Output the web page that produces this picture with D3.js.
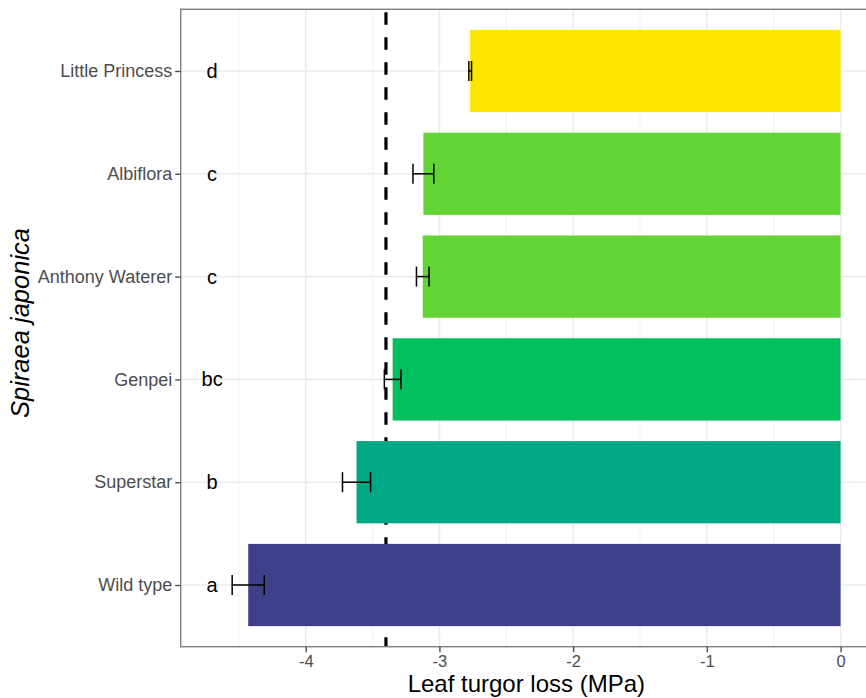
<!DOCTYPE html>
<html>
<head>
<meta charset="utf-8">
<script src="https://cdn.jsdelivr.net/npm/d3@7"></script>
<style>
  html, body { margin: 0; padding: 0; background: #fff; }
  svg { display: block; font-family: "Liberation Sans", Arial, Helvetica, sans-serif; }
</style>
</head>
<body>
<svg id="chart" width="866" height="698"></svg>
<script>
// Cultivars, bottom to top
const cultivars = ["Wild type", "Superstar", "Genpei", "Anthony Waterer", "Albiflora", "Little Princess"];
// Mean leaf turgor loss point (MPa)
const turgorLoss = [-4.43, -3.62, -3.35, -3.125, -3.12, -2.77];
// Standard error
const stdError = [0.12, 0.105, 0.062, 0.047, 0.078, 0.01];
// Significance groups
const groupLetters = ["a", "b", "bc", "c", "c", "d"];
const barColors = ["#3E4089", "#00A884", "#00BF5E", "#62D436", "#62D436", "#FDE500"];
// Reference threshold line
const threshold = -3.4;
const xTicks = [-4, -3, -2, -1, 0];
const xMinorTicks = [-4.5, -3.5, -2.5, -1.5, -0.5];
const letterX = -4.7;

const rows = cultivars.map((c, i) => ({
  name: c, value: turgorLoss[i], se: stdError[i], letter: groupLetters[i], color: barColors[i]
}));

const svg = d3.select("#chart");
const panel = { left: 180.7, right: 872, top: 9.3, bottom: 646.7 };

const x = d3.scaleLinear().domain([-4.935, 0.235]).range([panel.left, panel.right]);
const y = d3.scalePoint().domain(cultivars).range([panel.bottom, panel.top]).padding(0.6);
const barH = y.step() * 0.8;

// panel background
svg.append("rect")
  .attr("x", panel.left).attr("y", panel.top)
  .attr("width", panel.right - panel.left).attr("height", panel.bottom - panel.top)
  .attr("fill", "#fff");

const grid = svg.append("g");
grid.selectAll("line.minor").data(xMinorTicks).join("line")
  .attr("x1", d => x(d)).attr("x2", d => x(d))
  .attr("y1", panel.top).attr("y2", panel.bottom)
  .attr("stroke", "#EFEFEF").attr("stroke-width", 0.9);
grid.selectAll("line.majx").data(xTicks).join("line")
  .attr("x1", d => x(d)).attr("x2", d => x(d))
  .attr("y1", panel.top).attr("y2", panel.bottom)
  .attr("stroke", "#EBEBEB").attr("stroke-width", 1.6);
grid.selectAll("line.majy").data(cultivars).join("line")
  .attr("x1", panel.left).attr("x2", panel.right)
  .attr("y1", d => y(d)).attr("y2", d => y(d))
  .attr("stroke", "#EBEBEB").attr("stroke-width", 1.6);

// threshold line (behind the bars)
svg.append("line")
  .attr("x1", x(threshold)).attr("x2", x(threshold))
  .attr("y1", panel.top + 3).attr("y2", panel.bottom)
  .attr("stroke", "#000").attr("stroke-width", 3.2)
  .attr("stroke-dasharray", "12.5,12.5");

// bars
svg.append("g").selectAll("rect").data(rows).join("rect")
  .attr("x", d => x(d.value))
  .attr("width", d => x(0) - x(d.value))
  .attr("y", d => y(d.name) - barH / 2)
  .attr("height", barH)
  .attr("fill", d => d.color);

// error bars
const eb = svg.append("g").attr("stroke", "#000").attr("stroke-width", 1.5).attr("fill", "none");
const capH = 10;
rows.forEach(d => {
  const cy = y(d.name), lo = x(d.value - d.se), hi = x(d.value + d.se);
  eb.append("line").attr("x1", lo).attr("x2", hi).attr("y1", cy).attr("y2", cy);
  eb.append("line").attr("x1", lo).attr("x2", lo).attr("y1", cy - capH).attr("y2", cy + capH);
  eb.append("line").attr("x1", hi).attr("x2", hi).attr("y1", cy - capH).attr("y2", cy + capH);
});

// group letters
svg.append("g").selectAll("text").data(rows).join("text")
  .attr("x", x(letterX))
  .attr("y", d => y(d.name))
  .attr("dy", "0.35em")
  .attr("text-anchor", "middle")
  .attr("font-size", 20)
  .attr("fill", "#000")
  .text(d => d.letter);

// panel border
svg.append("rect")
  .attr("x", panel.left).attr("y", panel.top)
  .attr("width", panel.right - panel.left).attr("height", panel.bottom - panel.top)
  .attr("fill", "none").attr("stroke", "#7F7F7F").attr("stroke-width", 1.4);

// axes
const xAxis = svg.append("g")
  .attr("transform", `translate(0,${panel.bottom})`)
  .call(d3.axisBottom(x).tickValues(xTicks).tickSize(5.5).tickPadding(3).tickFormat(d3.format("d")));
const yAxis = svg.append("g")
  .attr("transform", `translate(${panel.left},0)`)
  .call(d3.axisLeft(y).tickSize(5.5).tickPadding(3));
[xAxis, yAxis].forEach(a => {
  a.select(".domain").remove();
  a.selectAll(".tick line").attr("stroke", "#4D4D4D").attr("stroke-width", 1.4);
  a.selectAll(".tick text").attr("fill", "#4D4D4D")
    .attr("font-family", "'Liberation Sans', Arial, sans-serif");
});
xAxis.selectAll(".tick text").attr("font-size", 16.5).text(d => d < 0 ? "-" + Math.abs(d) : d);
yAxis.selectAll(".tick text").attr("font-size", 18);

// axis titles
svg.append("text")
  .attr("x", (panel.left + panel.right) / 2)
  .attr("y", 692)
  .attr("text-anchor", "middle")
  .attr("font-size", 24)
  .attr("fill", "#000")
  .text("Leaf turgor loss (MPa)");

svg.append("text")
  .attr("transform", `translate(28.5,323) rotate(-90)`)
  .attr("text-anchor", "middle")
  .attr("font-size", 25.5)
  .attr("font-style", "italic")
  .attr("fill", "#000")
  .text("Spiraea japonica");
</script>
</body>
</html>
